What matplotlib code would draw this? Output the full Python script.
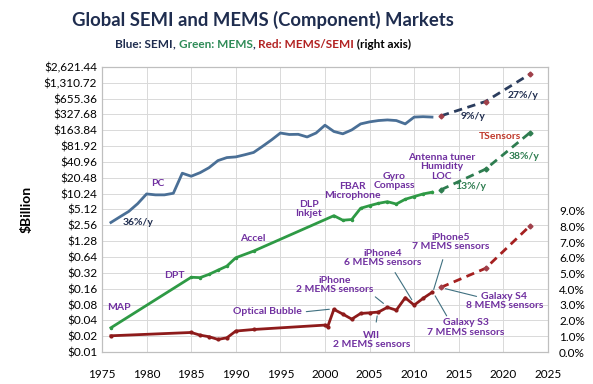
import matplotlib
matplotlib.use("Agg")
import matplotlib.pyplot as plt
from matplotlib.ticker import FixedLocator, FuncFormatter

plt.rcParams['font.family'] = ['Lato', 'DejaVu Sans']

# SEMI market ($B), actuals
semi_years = list(range(1976, 2013))
semi_vals = [2.9, 3.7, 4.7, 6.6, 10.1, 9.7, 9.7, 10.4, 25.0, 21.9, 25.6, 31.8, 43.4,
             49.5, 51, 56, 62, 81, 107, 145, 136, 137, 122, 145, 204, 155, 140, 166,
             216, 236, 250, 257, 250, 216, 291, 296, 291]
semi_fc_years = [2013, 2018, 2023]
semi_fc_vals = [307, 575, 1913]

# MEMS market ($B), actuals
mems_years = [1976, 1985, 1986, 1987, 1988, 1989, 1990, 1992, 2001, 2002, 2003, 2004,
              2005, 2006, 2007, 2008, 2009, 2010, 2011, 2012]
mems_vals = [0.029, 0.264, 0.26, 0.30, 0.36, 0.43, 0.62, 0.83, 3.9, 3.2, 3.3, 5.4,
             6.05, 6.7, 7.2, 6.5, 8.0, 9.0, 10.1, 10.9]
mems_fc_years = [2013, 2018, 2023]
mems_fc_vals = [12.1, 29.8, 148]

# MEMS/SEMI ratio (%)
ratio_years = [1976, 1985, 1986, 1987, 1988, 1989, 1990, 1992, 2000, 2000.3, 2001, 2002,
               2003, 2004, 2005, 2006, 2007, 2008, 2009, 2010, 2011, 2012]
ratio_vals = [1.04, 1.25, 1.08, 0.98, 0.81, 0.91, 1.34, 1.44, 1.72, 1.61, 2.72, 2.42,
              2.10, 2.46, 2.50, 2.55, 2.85, 2.67, 3.46, 2.99, 3.42, 3.80]
ratio_fc_years = [2013, 2018, 2023]
ratio_fc_vals = [4.12, 5.33, 8.04]

left_ticks = [0.01 * 2 ** k for k in range(19)]
right_ticks = list(range(10))
year_ticks = list(range(1975, 2030, 5))

PURPLE = '#7030A0'
NAVY = '#1F2D4F'
BLUE = '#4A6F96'
GREEN = '#2E9A45'
RED = '#8E1B1B'
LEAD = '#3F7080'

fig = plt.figure(figsize=(5.93, 3.84), dpi=100)
ax = fig.add_axes([0.172, 0.083, 0.752, 0.743])
ax.set_yscale('log', base=2)
ax.set_ylim(0.01, 2621.44)
ax.set_xlim(1975, 2025)
ax.yaxis.set_major_locator(FixedLocator(left_ticks))
ax.yaxis.set_minor_locator(FixedLocator([]))
ax.yaxis.set_major_formatter(FuncFormatter(lambda v, p: '${:,.2f}'.format(v)))
ax.set_xticks(year_ticks)
ax.grid(True, color='#D9D9D9', lw=0.7)
ax.tick_params(length=0, labelsize=8.5, colors='black')
ax.tick_params(axis='x', pad=12)
for s in ax.spines.values():
    s.set_color('#BFBFBF')
ax.set_ylabel('$Billion', fontsize=10, fontweight='bold', labelpad=8)

ax.plot(semi_years, semi_vals, color=BLUE, lw=2.0)
ax.plot(semi_fc_years, semi_fc_vals, color='#2B3D5E', lw=2.0, ls=(0, (3, 2)),
        marker='D', ms=2.5, mfc='#A0404A', mec='#A0404A')
ax.plot(mems_years, mems_vals, color=GREEN, lw=2.0, marker='o', ms=1.5)
ax.plot(mems_fc_years, mems_fc_vals, color='#2E7D50', lw=2.0, ls=(0, (3, 2)),
        marker='D', ms=2.5, mfc='#2E7D50', mec='#2E7D50')

ax2 = ax.twinx()
ax2.set_ylim(0, 18.15)
ax2.yaxis.set_major_locator(FixedLocator(right_ticks))
ax2.yaxis.set_major_formatter(FuncFormatter(lambda v, p: '%.1f%%' % v))
ax2.tick_params(length=0, labelsize=8.5, pad=8)
for s in ax2.spines.values():
    s.set_color('#BFBFBF')
ax2.plot(ratio_years, ratio_vals, color=RED, lw=2.0, marker='o', ms=2)
ax2.plot(ratio_fc_years, ratio_fc_vals, color='#A52020', lw=2.0, ls=(0, (3, 2)),
         marker='D', ms=2.5, mfc='#A0404A', mec='#A0404A')

fs = 7.5
def lab(x, y, s, c=PURPLE):
    ax.text(x, y, s, color=c, fontsize=fs, fontweight='bold', ha='center',
            va='center', linespacing=1.1, zorder=5)

lab(1979.1, 2.96, '36%/y', NAVY)
lab(1981.3, 15.7, 'PC')
lab(1976.9, 0.069, 'MAP')
lab(1983.1, 0.28, 'DPT')
lab(1991.9, 1.47, 'Accel')
lab(1998.2, 5.2, 'DLP\nInkjet')
lab(2003.1, 11.5, 'FBAR\nMicrophone')
lab(2007.8, 17.8, 'Gyro\nCompass')
lab(2013.1, 33, 'Antenna tuner\nHumidity\nLOC')
lab(2016.6, 300, '9%/y', NAVY)
lab(2022.2, 760, '27%/y', NAVY)
lab(2016.4, 13.7, '13%/y', '#2E7D50')
lab(2022.3, 53, '38%/y', '#2E7D50')
lab(2019.6, 123, 'TSensors', '#C0392B')

def lead(x0, y0, x1, y1, x, y, s):
    ax.annotate('', xy=(x1, y1), xytext=(x0, y0),
                arrowprops=dict(arrowstyle='-', color=LEAD, lw=0.8))
    lab(x, y, s)

lead(1997.6, 0.058, 2000.8, 0.066, 1993.6, 0.060, 'Optical Bubble')
lead(2005.4, 0.121, 2006.8, 0.078, 2001.1, 0.188, 'iPhone\n2 MEMS sensors')
lead(2005.7, 0.033, 2005.9, 0.055, 2005.2, 0.017, 'WII\n2 MEMS sensors')
lead(2007.7, 0.36, 2009.9, 0.089, 2006.5, 0.61, 'iPhone4\n6 MEMS sensors')
lead(2013.3, 0.64, 2012.1, 0.138, 2014.1, 1.24, 'iPhone5\n7 MEMS sensors')
lead(2012.2, 0.13, 2013.8, 0.044, 2015.8, 0.029, 'Galaxy S3\n7 MEMS sensors')
lead(2013.2, 0.165, 2017.3, 0.111, 2020.1, 0.093, 'Galaxy S4\n8 MEMS sensors')

fig.text(0.444, 0.948, 'Global SEMI and MEMS (Component) Markets', ha='center',
         va='center', fontsize=13.3, fontweight='bold', color=NAVY)

# subtitle in coloured pieces, laid out left to right
parts = [('Blue: SEMI', NAVY), (', ', NAVY), ('Green: MEMS', '#2E8B57'), (', ', NAVY),
         ('Red: MEMS/SEMI', '#B22222'), (' (right axis)', 'black')]
sub = [fig.text(0, 0.885, s, color=c, fontsize=8.5, fontweight='bold', va='center')
       for s, c in parts]
fig.canvas.draw()
r = fig.canvas.get_renderer()
widths = [t.get_window_extent(r).width for t in sub]
xcur = 0.444 * fig.bbox.width - sum(widths) / 2
for t, w in zip(sub, widths):
    t.set_position((xcur / fig.bbox.width, 0.885))
    xcur += w

fig.savefig('out.png', dpi=100)
